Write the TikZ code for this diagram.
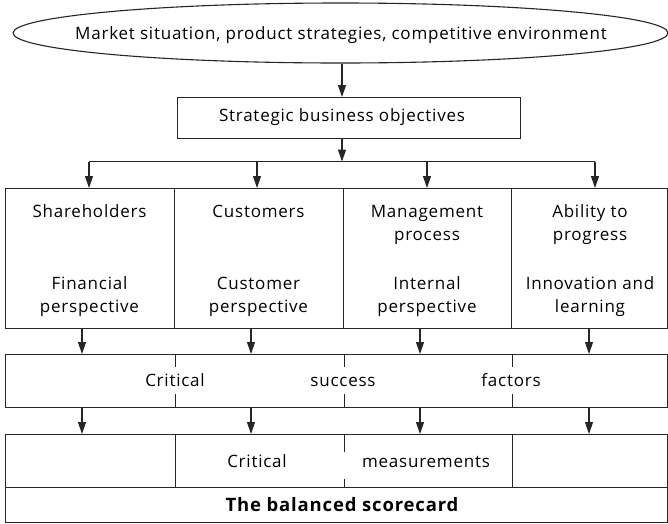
\documentclass[tikz,border=0pt]{standalone}
\usepackage{fontspec}
\setmainfont{Open Sans}[LetterSpace=4.5]
\usetikzlibrary{shapes.geometric,arrows.meta}
\begin{document}
\begin{tikzpicture}[x=1pt,y=-1pt,
  line/.style={line width=1.1pt, draw=black!85},
  arr/.style={line, -{Triangle[length=12pt,width=8pt]}},
  box/.style={line, rectangle, inner sep=0pt, anchor=north west},
  txt/.style={font=\fontsize{17}{23}\selectfont, align=center, inner sep=0pt, anchor=base},
  btxt/.style={txt, font=\fontsize{18.5}{23}\selectfont\bfseries}]
\useasboundingbox (0,0) rectangle (668,523);

% top ellipse
\node[line, ellipse, minimum width=655pt, minimum height=60pt, inner sep=0pt] (env) at (340.5,33) {};
\node[txt] (envt) at (341,39) {Market situation, product strategies, competitive environment};

% objectives
\node[box, minimum width=343pt, minimum height=41pt] (obj) at (177,97) {};
\node[txt] (objt) at (342,121) {Strategic business objectives};

% split line
\coordinate (split) at (342,161.5);
\coordinate (b1) at (89,161.5);
\coordinate (b2) at (257,161.5);
\coordinate (b3) at (427,161.5);
\coordinate (b4) at (595,161.5);

% columns
\node[box, minimum width=169pt, minimum height=140pt] (c1) at (5,188) {};
\node[box, minimum width=169pt, minimum height=140pt] (c2) at (174,188) {};
\node[box, minimum width=168pt, minimum height=140pt] (c3) at (343,188) {};
\node[box, minimum width=156pt, minimum height=140pt] (c4) at (511,188) {};

% (base anchor of a two-line node = baseline of its last line)
\node[txt] (t1a) at (89.5,217) {Shareholders};
\node[txt] (t2a) at (258.5,217) {Customers};
\node[txt] (t3a) at (427,240) {Management\\process};
\node[txt] (t4a) at (590,240) {Ability to\\progress};
\node[txt] (t1b) at (89.5,312) {Financial\\perspective};
\node[txt] (t2b) at (258.5,312) {Customer\\perspective};
\node[txt] (t3b) at (427,312) {Internal\\perspective};
\node[txt] (t4b) at (590,312) {Innovation and\\learning};

% critical success factors
\node[box, minimum width=662pt, minimum height=53pt] (crit) at (5,354) {};
\node[txt] (cr1) at (175,386) {Critical};
\node[txt] (cr2) at (343,386) {success};
\node[txt] (cr3) at (511,386) {factors};

% measurements
\node[box, minimum width=662pt, minimum height=53pt] (meas) at (5,434) {};
\node[box, minimum width=662pt, minimum height=35pt] (bsc) at (5,487) {};
\node[txt] (m1) at (257,467) {Critical};
\node[txt] (m2) at (426,467) {measurements};
\node[btxt] (bsct) at (342,511) {The balanced scorecard};

% lower arrow columns
\coordinate (d1) at (82,0);
\coordinate (d2) at (251,0);
\coordinate (d3) at (420,0);
\coordinate (d4) at (589,0);

% connectors
\draw[arr] (env.south -| split) -- (split |- obj.north);
\draw[arr] (obj.south -| split) -- (split);
\draw[line] (b1) -- (b4);
\foreach \b/\c in {b1/c1,b2/c2,b3/c3,b4/c4}
  \draw[arr] (\b) -- (\b |- \c.north);
\foreach \d/\c in {d1/c1,d2/c2,d3/c3,d4/c4}{
  \draw[arr] (\d |- \c.south) -- (\d |- crit.north);
  \draw[arr] (\d |- crit.south) -- (\d |- meas.north);
}

% ticks in critical box
\foreach \c in {c1,c2,c3}{
  \draw[line] (crit.north -| \c.east) -- ++(0,13);
  \draw[line] (crit.south -| \c.east) -- ++(0,-14);
}
% dividers in measurements box
\draw[line] (meas.north -| c1.east) -- (meas.south -| c1.east);
\draw[line] (meas.north -| c3.east) -- (meas.south -| c3.east);
\draw[line] (meas.north -| c2.east) -- ++(0,18);
\draw[line] (meas.south -| c2.east) -- ++(0,-9);
\end{tikzpicture}
\end{document}
